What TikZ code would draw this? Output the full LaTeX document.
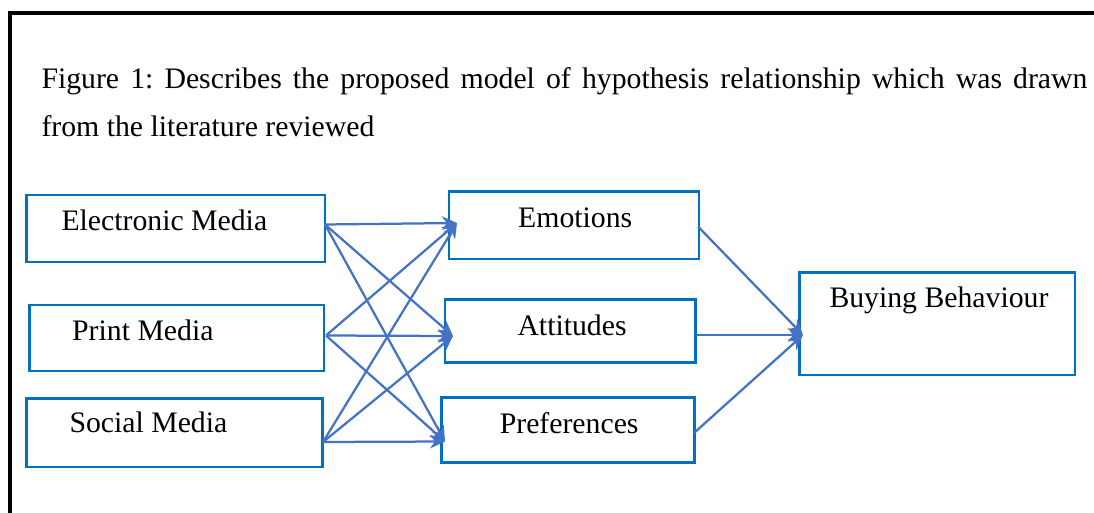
\documentclass[tikz,border=0pt]{standalone}
\usepackage{fontspec}
\setmainfont{Liberation Serif}
\usetikzlibrary{arrows.meta}
\definecolor{boxblue}{HTML}{0070C0}
\definecolor{linkblue}{HTML}{4472C4}
\frenchspacing
\begin{document}
\begin{tikzpicture}[x=0.4pt,y=-0.4pt,
  box/.style={draw=boxblue,line width=1pt,rectangle,inner sep=0pt},
  lbl/.style={anchor=base west,inner sep=0pt,font=\fontsize{11.9}{14}\selectfont},
  link/.style={draw=linkblue,line width=0.9pt,-{Stealth[length=6pt,width=5.5pt]}}]
\useasboundingbox (0,0) rectangle (1094,513);
% frame
\draw[line width=1.6pt,line join=miter] (1094,13) -- (10,13) -- (10,513);
% title
\node[lbl] (t1) at (41,88.3) {\makebox[418.4pt][s]{Figure 1: Describes the proposed model of hypothesis relationship which was drawn}};
\node[lbl] (t2) at (41,136) {from the literature reviewed};
% boxes
\node[box,minimum width=119.32pt,minimum height=26.8pt] (el) at (175.85,228.5) {};
\node[box,minimum width=117.88pt,minimum height=26.4pt] (pr) at (176.65,338) {};
\node[box,minimum width=118.4pt,minimum height=27.48pt] (so) at (174.7,432.65) {};
\node[box,minimum width=100pt,minimum height=26.92pt] (em) at (574,225.35) {};
\node[box,minimum width=100.28pt,minimum height=25.36pt] (at) at (570.35,331) {};
\node[box,minimum width=101.04pt,minimum height=26pt] (pf) at (568,430.2) {};
\node[box,minimum width=110.28pt,minimum height=40.92pt] (bb) at (937.15,323.85) {};
% labels
\node[lbl] (elt) at (61,230) {Electronic Media};
\node[lbl] (prt) at (71.7,340) {Print Media};
\node[lbl] (sot) at (69,432.7) {Social Media};
\node[lbl] (emt) at (517.7,227.3) {Emotions};
\node[lbl] (att) at (517,335) {Attitudes};
\node[lbl] (pft) at (499.3,433.3) {Preferences};
\node[lbl] (bbt) at (829,307.7) {Buying Behaviour};
% connector end points
\coordinate (elo) at (325,224.5);
\coordinate (pro) at (326,335.5);
\coordinate (soo) at (323,442);
\coordinate (emi) at (457,223);
\coordinate (ati) at (453,336);
\coordinate (pfi) at (445,441.5);
\coordinate (emo) at (698,226.5);
\coordinate (ato) at (697,335);
\coordinate (pfo) at (694,433);
\coordinate (bbi) at (803,335);
% connectors
\foreach \s in {elo,pro,soo}{
  \foreach \t in {emi,ati,pfi}{
    \draw[link] (\s) -- (\t);
  }
}
\draw[link] (emo) -- (bbi);
\draw[link] (ato) -- (bbi);
\draw[link] (pfo) -- (bbi);
\end{tikzpicture}
\end{document}
